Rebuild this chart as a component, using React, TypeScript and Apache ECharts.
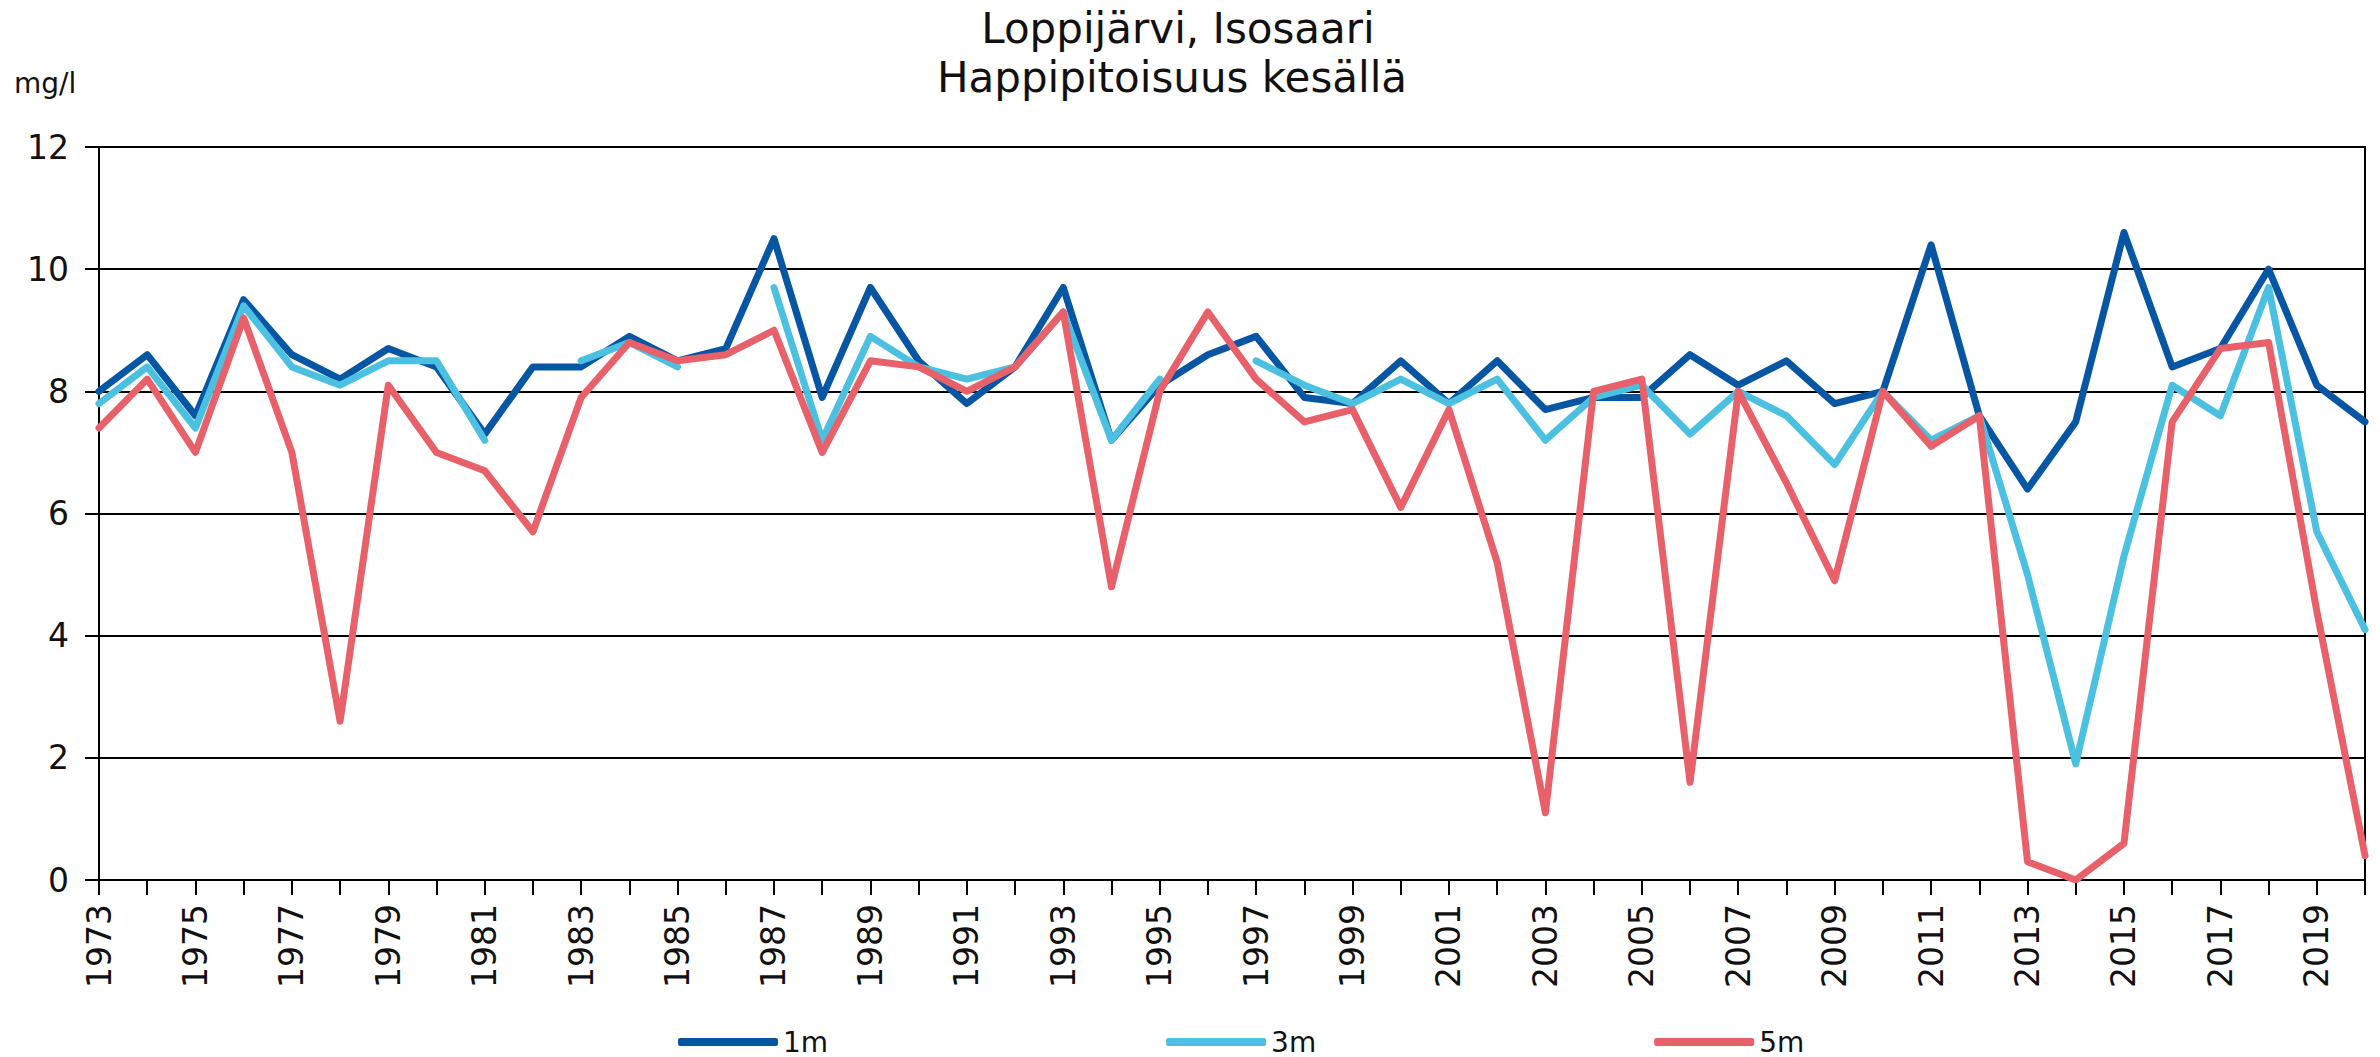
import React, { useEffect, useRef } from "react";
import * as echarts from "echarts";

const years: string[] = [
  "1973","1974","1975","1976","1977","1978","1979","1980","1981","1982",
  "1983","1984","1985","1986","1987","1988","1989","1990","1991","1992",
  "1993","1994","1995","1996","1997","1998","1999","2000","2001","2002",
  "2003","2004","2005","2006","2007","2008","2009","2010","2011","2012",
  "2013","2014","2015","2016","2017","2018","2019","2020",
];

const series1m: (number | null)[] = [
  8.0, 8.6, 7.6, 9.5, 8.6, 8.2, 8.7, 8.4, 7.3, 8.4,
  8.4, 8.9, 8.5, 8.7, 10.5, 7.9, 9.7, 8.5, 7.8, 8.4,
  9.7, 7.2, 8.1, 8.6, 8.9, 7.9, 7.8, 8.5, 7.8, 8.5,
  7.7, 7.9, 7.9, 8.6, 8.1, 8.5, 7.8, 8.0, 10.4, 7.6,
  6.4, 7.5, 10.6, 8.4, 8.7, 10.0, 8.1, 7.5,
];

const series3m: (number | null)[] = [
  7.8, 8.4, 7.4, 9.4, 8.4, 8.1, 8.5, 8.5, 7.2, null,
  8.5, 8.8, 8.4, null, 9.7, 7.2, 8.9, 8.4, 8.2, 8.4,
  9.3, 7.2, 8.2, null, 8.5, 8.1, 7.8, 8.2, 7.8, 8.2,
  7.2, 7.9, 8.1, 7.3, 8.0, 7.6, 6.8, 8.0, 7.2, 7.6,
  5.0, 1.9, 5.3, 8.1, 7.6, 9.7, 5.7, 4.1,
];

const series5m: (number | null)[] = [
  7.4, 8.2, 7.0, 9.2, 7.0, 2.6, 8.1, 7.0, 6.7, 5.7,
  7.9, 8.8, 8.5, 8.6, 9.0, 7.0, 8.5, 8.4, 8.0, 8.4,
  9.3, 4.8, 8.0, 9.3, 8.2, 7.5, 7.7, 6.1, 7.7, 5.2,
  1.1, 8.0, 8.2, 1.6, 8.0, 6.5, 4.9, 8.0, 7.1, 7.6,
  0.3, 0.0, 0.6, 7.5, 8.7, 8.8, 4.4, 0.4,
];

const seriesNames = ["1m", "3m", "5m"];
const seriesColors = ["#0756a3", "#4cc0e0", "#e8616a"];
const titleLines = ["Loppijärvi, Isosaari", "Happipitoisuus kesällä"];
const unitLabel = "mg/l";

const FONT = "'DejaVu Sans', sans-serif";

export default function App() {
  const ref = useRef<HTMLDivElement | null>(null);

  useEffect(() => {
    document.body.style.margin = "0";
    if (!ref.current) return;
    const chart = echarts.init(ref.current, undefined, { renderer: "svg" });
    const data = [series1m, series3m, series5m];
    chart.setOption({
      animation: false,
      backgroundColor: "#ffffff",
      graphic: [
        {
          type: "text",
          x: 1178,
          y: 28,
          style: {
            text: titleLines[0],
            fontSize: 42,
            fontFamily: FONT,
            fill: "#111",
            textAlign: "center",
            textVerticalAlign: "middle",
          },
        },
        {
          type: "text",
          x: 1172,
          y: 77,
          style: {
            text: titleLines[1],
            fontSize: 42,
            fontFamily: FONT,
            fill: "#111",
            textAlign: "center",
            textVerticalAlign: "middle",
          },
        },
        {
          type: "text",
          x: 14,
          y: 83,
          style: {
            text: unitLabel,
            fontSize: 28,
            fontFamily: FONT,
            fill: "#111",
            textAlign: "left",
            textVerticalAlign: "middle",
          },
        },
      ],
      legend: {
        show: true,
        data: seriesNames,
        left: 678,
        top: 1028,
        orient: "horizontal",
        icon: "roundRect",
        itemWidth: 100,
        itemHeight: 8,
        itemGap: 338,
        textStyle: { fontSize: 28, fontFamily: FONT, color: "#111", padding: [0, 0, 0, 0] },
        padding: 0,
      },
      grid: {
        left: 99,
        right: 15,
        top: 147,
        bottom: 177,
        show: true,
        borderColor: "#000",
        borderWidth: 2,
        containLabel: false,
      },
      xAxis: {
        type: "category",
        data: years,
        boundaryGap: false,
        axisLine: { show: true, lineStyle: { color: "#000", width: 2 } },
        axisTick: { show: true, interval: 0, length: 15, inside: false, lineStyle: { color: "#000", width: 2 } },
        axisLabel: {
          interval: 1,
          rotate: 90,
          margin: 24,
          fontSize: 33,
          fontFamily: FONT,
          color: "#111",
        },
        splitLine: { show: false },
      },
      yAxis: {
        type: "value",
        min: 0,
        max: 12,
        interval: 2,
        axisLine: { show: true, lineStyle: { color: "#000", width: 2 } },
        axisTick: { show: true, length: 14, inside: false, lineStyle: { color: "#000", width: 2 } },
        axisLabel: { margin: 30, fontSize: 33, fontFamily: FONT, color: "#111" },
        splitLine: { show: true, lineStyle: { color: "#000", width: 2 } },
      },
      series: seriesNames.map((name, i) => ({
        name,
        type: "line",
        data: data[i],
        symbol: "none",
        showSymbol: false,
        connectNulls: false,
        color: seriesColors[i],
        lineStyle: { color: seriesColors[i], width: 7, join: "round", cap: "round" },
        itemStyle: { color: seriesColors[i] },
        z: 2 + i,
      })),
    });
    return () => {
      chart.dispose();
    };
  }, []);

  return (
    <div
      ref={ref}
      style={{ position: "absolute", left: 0, top: 0, width: 2380, height: 1057 }}
    />
  );
}
